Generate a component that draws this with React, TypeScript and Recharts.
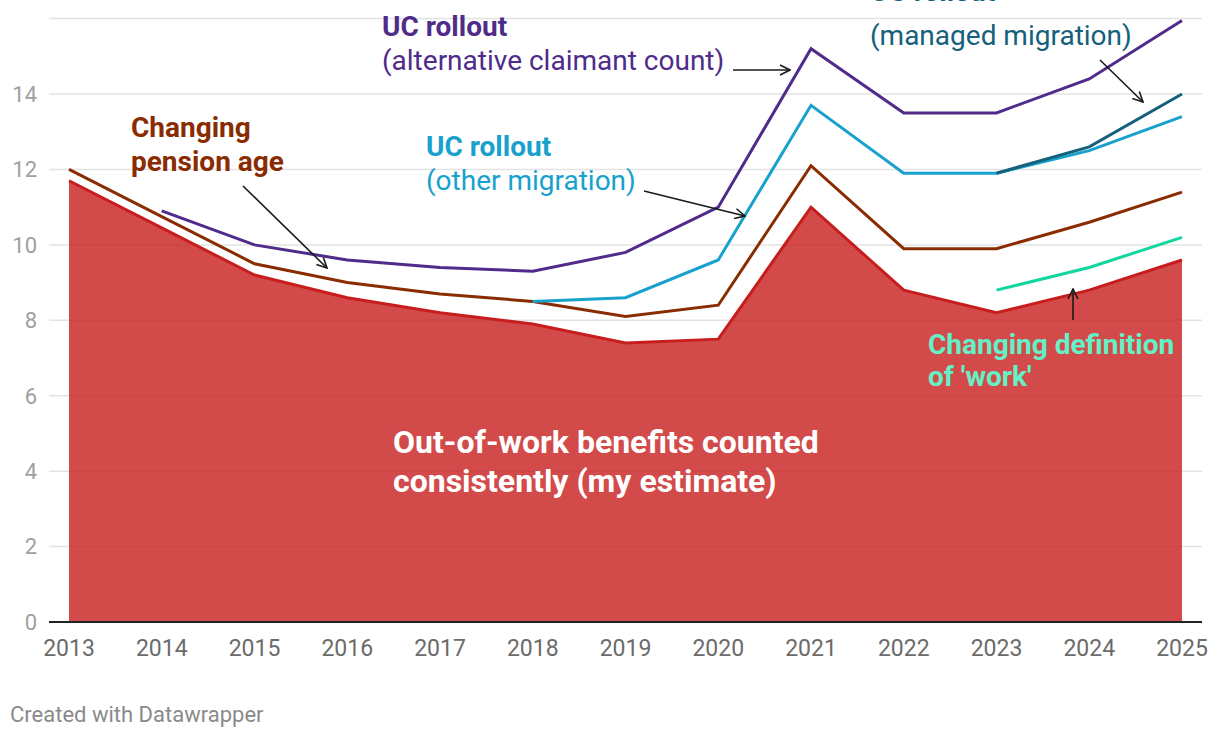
import React from 'react';
import {
  ComposedChart,
  Area,
  Line,
  XAxis,
  YAxis,
  CartesianGrid,
} from 'recharts';

const years = [2013, 2014, 2015, 2016, 2017, 2018, 2019, 2020, 2021, 2022, 2023, 2024, 2025];
const consistent = [11.7, 10.45, 9.2, 8.6, 8.2, 7.9, 7.4, 7.5, 11.0, 8.8, 8.2, 8.8, 9.6];
const pensionAge = [12.0, 10.75, 9.5, 9.0, 8.7, 8.5, 8.1, 8.4, 12.1, 9.9, 9.9, 10.6, 11.4];
const otherMigration = [null, null, null, null, null, 8.5, 8.6, 9.6, 13.7, 11.9, 11.9, 12.5, 13.4];
const managedMigration = [null, null, null, null, null, null, null, null, null, null, 11.9, 12.6, 14.0];
const altClaimant = [null, 10.9, 10.0, 9.6, 9.4, 9.3, 9.8, 11.0, 15.2, 13.5, 13.5, 14.4, 15.95];
const workDefinition = [null, null, null, null, null, null, null, null, null, null, 8.8, 9.4, 10.2];
const yTicks = [0, 2, 4, 6, 8, 10, 12, 14];

const data = years.map((year, i) => ({
  year,
  consistent: consistent[i],
  pensionAge: pensionAge[i],
  otherMigration: otherMigration[i],
  managedMigration: managedMigration[i],
  altClaimant: altClaimant[i],
  workDefinition: workDefinition[i],
}));

const RED_LINE = '#c71e1d';
const BROWN = '#8a2c02';
const BLUE = '#18a1cd';
const TEAL = '#15607a';
const PURPLE = '#4f2b8a';
const GREEN = '#12d6a0';
const MINT = '#63f2c8';

const font = 'Roboto, "Noto Sans", sans-serif';

function Label({ x, y, color, lines, size = 28, lh = 34 }: {
  x: number; y: number; color: string; lines: [string, boolean][]; size?: number; lh?: number;
}) {
  return (
    <text x={x} y={y} fill={color} fontSize={size} fontFamily={font}>
      {lines.map(([t, bold], i) => (
        <tspan key={i} x={x} dy={i === 0 ? 0 : lh} fontWeight={bold ? 700 : 400}>{t}</tspan>
      ))}
    </text>
  );
}

export default function App() {
  return (
    <div style={{ position: 'absolute', left: 0, top: 0, width: 1220, height: 738, background: '#fff', overflow: 'hidden', fontFamily: font }}>
      <ComposedChart
        width={1220}
        height={662}
        data={data}
        margin={{ top: 18.6, right: 18, bottom: 0, left: 0 }}
      >
        <CartesianGrid vertical={false} stroke="#e3e3e3" strokeWidth={1.5} />
        <XAxis
          dataKey="year"
          type="number"
          domain={[2013, 2025]}
          ticks={years}
          padding={{ left: 20, right: 20 }}
          tickLine={false}
          axisLine={{ stroke: '#222', strokeWidth: 2 }}
          tick={{ fontSize: 23, fill: '#6b6b6b', fontFamily: font }}
          tickMargin={12}
          height={40}
          interval={0}
        />
        <YAxis
          domain={[0, 16]}
          ticks={yTicks}
          width={49}
          axisLine={false}
          tickLine={false}
          tickMargin={6}
          tick={{ fontSize: 22, fill: '#a0a0a0', fontFamily: font }}
        />
        <Area
          dataKey="consistent"
          type="linear"
          fill={RED_LINE}
          fillOpacity={0.8}
          stroke={RED_LINE}
          strokeWidth={3}
          isAnimationActive={false}
        />
        <Line dataKey="pensionAge" type="linear" stroke={BROWN} strokeWidth={3} dot={false} isAnimationActive={false} />
        <Line dataKey="otherMigration" type="linear" stroke={BLUE} strokeWidth={3} dot={false} isAnimationActive={false} />
        <Line dataKey="managedMigration" type="linear" stroke={TEAL} strokeWidth={3} dot={false} isAnimationActive={false} />
        <Line dataKey="altClaimant" type="linear" stroke={PURPLE} strokeWidth={3} dot={false} isAnimationActive={false} />
        <Line dataKey="workDefinition" type="linear" stroke={GREEN} strokeWidth={3} dot={false} isAnimationActive={false} />
      </ComposedChart>

      <svg width={1220} height={738} style={{ position: 'absolute', left: 0, top: 0, pointerEvents: 'none' }}>
        <defs>
          <marker id="arr" viewBox="0 0 12 12" refX="11" refY="6" markerWidth="12" markerHeight="12" markerUnits="userSpaceOnUse" orient="auto">
            <path d="M1,1 L11,6 L1,11" fill="none" stroke="#1a1a1a" strokeWidth={1.6} />
          </marker>
        </defs>

        <Label x={382} y={36} color={PURPLE} lines={[['UC rollout', true], ['(alternative claimant count)', false]]} />
        <line x1={733} y1={70} x2={790} y2={70} stroke="#1a1a1a" strokeWidth={1.6} markerEnd="url(#arr)" />

        {/* upper line of this label sits above the top edge, as in the original */}
        <Label x={870} y={1} color={TEAL} lines={[['UC rollout', true], ['(managed migration)', false]]} lh={44} />
        <line x1={1100} y1={60} x2={1143} y2={102} stroke="#1a1a1a" strokeWidth={1.6} markerEnd="url(#arr)" />

        <Label x={131} y={137} color={BROWN} lines={[['Changing', true], ['pension age', true]]} />
        <line x1={243} y1={186} x2={327} y2={268} stroke="#1a1a1a" strokeWidth={1.6} markerEnd="url(#arr)" />

        <Label x={426} y={156} color={BLUE} lines={[['UC rollout', true], ['(other migration)', false]]} />
        <line x1={644} y1={191} x2={745} y2={216} stroke="#1a1a1a" strokeWidth={1.6} markerEnd="url(#arr)" />

        <Label x={928} y={354} color={MINT} lines={[['Changing definition', true], ["of 'work'", true]]} lh={32} />
        <line x1={1073} y1={320} x2={1073} y2={289} stroke="#1a1a1a" strokeWidth={1.6} markerEnd="url(#arr)" />

        <Label x={393} y={453} color="#ffffff" size={32} lh={39} lines={[['Out-of-work benefits counted', true], ['consistently (my estimate)', true]]} />

        <text x={10} y={722} fill="#8a8a8a" fontSize={22} fontFamily={font}>Created with Datawrapper</text>
      </svg>
    </div>
  );
}
